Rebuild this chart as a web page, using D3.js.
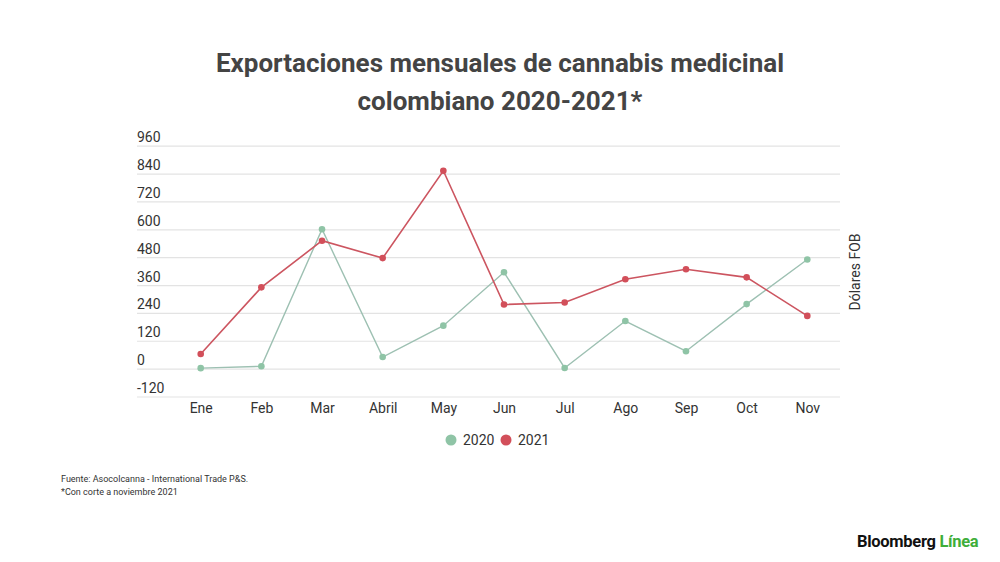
<!DOCTYPE html>
<html>
<head>
<meta charset="utf-8">
<script src="https://cdn.jsdelivr.net/npm/d3@7"></script>
<style>
  body { margin: 0; background: #fff; }
  text { font-family: Roboto, "Noto Sans", sans-serif; }
</style>
</head>
<body>
<div id="chart"></div>
<script>
const months = ["Ene", "Feb", "Mar", "Abril", "May", "Jun", "Jul", "Ago", "Sep", "Oct", "Nov"];
const values2020 = [2, 10, 600, 50, 185, 415, 3, 205, 75, 278, 470];
const values2021 = [63, 350, 551, 476, 852, 276, 285, 385, 428, 393, 227];
const yTicks = [-120, 0, 120, 240, 360, 480, 600, 720, 840, 960];

const series = [
    {name: "2020", values: values2020, color: "#8fc4a6", line: "#9dc0b2"},
    {name: "2021", values: values2021, color: "#d24f5a", line: "#cc5560"}
];

const W = 1000, H = 562;

const svg = d3.select("#chart")
    .append("svg")
    .attr("width", W)
    .attr("height", H);

// title
svg.append("text")
    .attr("x", 500).attr("y", 72)
    .attr("text-anchor", "middle")
    .attr("font-size", 26).attr("font-weight", "bold").attr("fill", "#444")
    .text("Exportaciones mensuales de cannabis medicinal");
svg.append("text")
    .attr("x", 500).attr("y", 110)
    .attr("text-anchor", "middle")
    .attr("font-size", 26).attr("font-weight", "bold").attr("fill", "#444")
    .text("colombiano 2020-2021*");

const x = d3.scalePoint()
    .domain(months)
    .range([200.7, 807.3]);

const y = d3.scaleLinear()
    .domain([-120, 960])
    .range([396.5, 145.7]);

// grid + y labels
const grid = svg.append("g")
    .attr("transform", "translate(137,0)")
    .call(d3.axisRight(y).tickValues(yTicks).tickSize(703).tickFormat(d => String(d)));
grid.select(".domain").remove();
grid.selectAll(".tick line").attr("stroke", "#e3e3e3").attr("stroke-width", 1.2);
grid.selectAll(".tick text")
    .attr("x", 0).attr("dy", -4)
    .attr("text-anchor", "start")
    .attr("font-size", 14).attr("fill", "#333")
    .attr("font-family", "Roboto, sans-serif");

// x labels
const xa = svg.append("g")
    .attr("transform", "translate(0,396.5)")
    .call(d3.axisBottom(x).tickSize(0).tickPadding(7));
xa.select(".domain").remove();
xa.selectAll(".tick text")
    .attr("font-size", 14).attr("fill", "#333")
    .attr("font-family", "Roboto, sans-serif");

// y axis title
svg.append("text")
    .attr("transform", "translate(860,272) rotate(-90)")
    .attr("text-anchor", "middle")
    .attr("font-size", 14).attr("fill", "#333")
    .text("Dólares FOB");

const line = d3.line()
    .x((d, i) => x(months[i]))
    .y(d => y(d));

series.forEach(s => {
    svg.append("path")
        .datum(s.values)
        .attr("fill", "none")
        .attr("stroke", s.line)
        .attr("stroke-width", s.name === "2021" ? 1.6 : 1.4)
        .attr("d", line);
    svg.append("g")
        .selectAll("circle")
        .data(s.values)
        .join("circle")
        .attr("cx", (d, i) => x(months[i]))
        .attr("cy", d => y(d))
        .attr("r", 3.3)
        .attr("fill", s.color);
});

// legend
const legend = svg.append("g");
const legendX = [451, 506];
series.forEach((s, i) => {
    legend.append("circle")
        .attr("cx", legendX[i]).attr("cy", 440)
        .attr("r", 5.5).attr("fill", s.color);
    legend.append("text")
        .attr("x", legendX[i] + 12).attr("y", 445)
        .attr("font-size", 14).attr("fill", "#333")
        .text(s.name);
});

// footer
svg.append("text")
    .attr("x", 61).attr("y", 482)
    .attr("font-size", 9).attr("fill", "#333")
    .text("Fuente: Asocolcanna  - International Trade P&S.");
svg.append("text")
    .attr("x", 61).attr("y", 495)
    .attr("font-size", 9).attr("fill", "#333")
    .text("*Con corte a noviembre 2021");

// logo
const logo = svg.append("text")
    .attr("x", 857).attr("y", 547)
    .attr("font-size", 16.5).attr("font-weight", "bold")
    .attr("letter-spacing", -0.3);
logo.append("tspan").attr("fill", "#111").text("Bloomberg ");
logo.append("tspan").attr("fill", "#3fae3a").text("Línea");
</script>
</body>
</html>
